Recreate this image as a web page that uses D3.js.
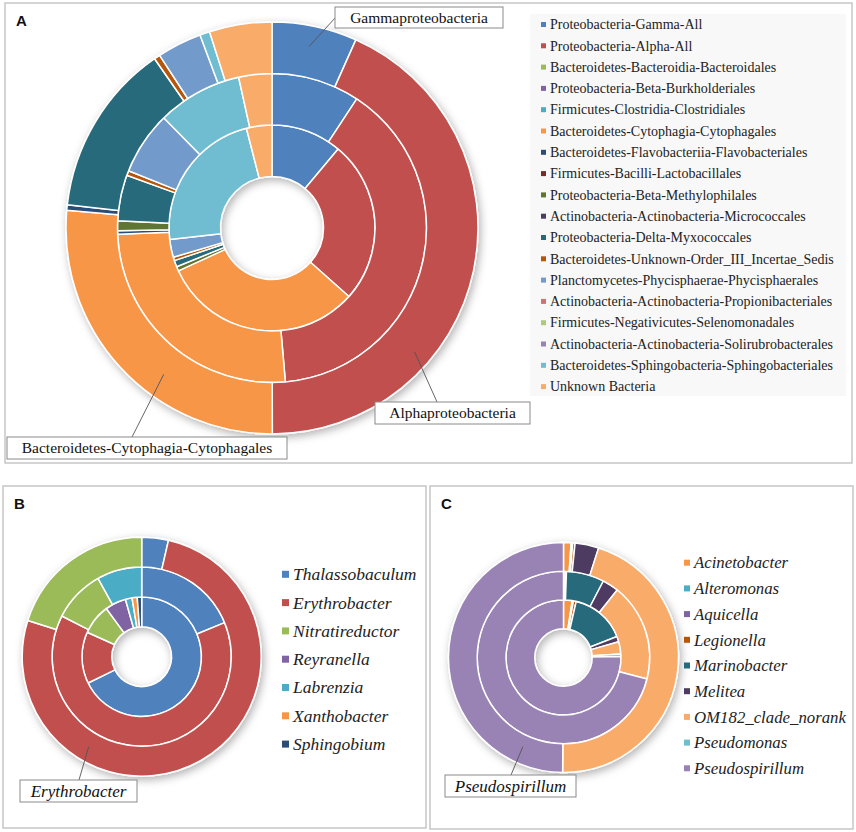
<!DOCTYPE html>
<html>
<head>
<meta charset="utf-8">
<script src="https://cdn.jsdelivr.net/npm/d3@7"></script>
<style>
  body { margin: 0; background: #fff; }
  svg { display: block; }
</style>
</head>
<body>
<script>
// ---------- data (percent of reads per ring, inner -> outer) ----------
var taxaA = ["Proteobacteria-Gamma-All", "Proteobacteria-Alpha-All", "Bacteroidetes-Bacteroidia-Bacteroidales",
  "Proteobacteria-Beta-Burkholderiales", "Firmicutes-Clostridia-Clostridiales", "Bacteroidetes-Cytophagia-Cytophagales",
  "Bacteroidetes-Flavobacteriia-Flavobacteriales", "Firmicutes-Bacilli-Lactobacillales", "Proteobacteria-Beta-Methylophilales",
  "Actinobacteria-Actinobacteria-Micrococcales", "Proteobacteria-Delta-Myxococcales", "Bacteroidetes-Unknown-Order_III_Incertae_Sedis",
  "Planctomycetes-Phycisphaerae-Phycisphaerales", "Actinobacteria-Actinobacteria-Propionibacteriales", "Firmicutes-Negativicutes-Selenomonadales",
  "Actinobacteria-Actinobacteria-Solirubrobacterales", "Bacteroidetes-Sphingobacteria-Sphingobacteriales", "Unknown Bacteria"];
var colorsA = ["#4F81BD", "#C0504D", "#9BBB59", "#8064A2", "#4BACC6", "#F79646", "#2C4D75", "#772C2A", "#5F7530",
  "#4D3B62", "#276A7C", "#B65708", "#729ACA", "#CD7371", "#AFC97A", "#9983B5", "#6FBDD1", "#F9AB6B"];
var innerA  = [11.1, 25.5, 0, 0, 0, 31.6, 0, 0, 0.7, 0, 1.0, 0.55, 2.8, 0, 0, 0, 22.8, 4.0];
var middleA = [9.25, 39.4, 0, 0, 0, 25.75, 0.36, 0, 1.03, 0, 4.8, 0.5, 6.6, 0, 0, 0, 8.9, 3.47];
var outerA  = [6.67, 43.3, 0, 0, 0, 26.4, 0.42, 0, 0, 0, 13.55, 0.47, 3.5, 0, 0, 0, 0.78, 4.9];

var taxaB = ["Thalassobaculum", "Erythrobacter", "Nitratireductor", "Reyranella", "Labrenzia", "Xanthobacter", "Sphingobium"];
var colorsB = ["#4F81BD", "#C0504D", "#9BBB59", "#8064A2", "#4BACC6", "#F79646", "#2C4D75"];
var innerB  = [67.8, 14.0, 8.2, 5.7, 1.8, 1.4, 1.2];
var middleB = [18.8, 63.7, 9.4, 0, 8.1, 0, 0];
var outerB  = [3.6, 76.3, 20.1, 0, 0, 0, 0];

var taxaC = ["Acinetobacter", "Alteromonas", "Aquicella", "Legionella", "Marinobacter", "Melitea", "OM182_clade_norank", "Pseudomonas", "Pseudospirillum"];
var colorsC = ["#F79646", "#4BACC6", "#8064A2", "#B65708", "#276A7C", "#4D3B62", "#F9AB6B", "#6FBDD1", "#9983B5"];
var innerC  = [2.44, 0.14, 0.19, 0.78, 15.5, 1.53, 3.47, 0.69, 75.3];
var middleC = [0.33, 0.11, 0.11, 0, 7.1, 3.05, 18.3, 0, 71.0];
var outerC  = [1.06, 0.11, 0.11, 0.33, 0, 3.33, 45.2, 0, 49.9];

var serif = "'Liberation Serif', 'Times New Roman', serif";
var sans  = "'Liberation Sans', Arial, sans-serif";

var svg = d3.select("body").append("svg")
    .attr("width", 856)
    .attr("height", 832);

// soft drop shadow like the office chart
var shadow = svg.append("defs").append("filter")
    .attr("id", "shadow")
    .attr("x", "-20%").attr("y", "-20%")
    .attr("width", "140%").attr("height", "140%");
shadow.append("feDropShadow")
    .attr("dx", 2).attr("dy", 3)
    .attr("stdDeviation", 4)
    .attr("flood-color", "#000")
    .attr("flood-opacity", 0.3);

// ---------- helpers ----------
function polar(cx, cy, r, deg) {
    var a = deg * Math.PI / 180;
    return [cx + r * Math.sin(a), cy - r * Math.cos(a)];
}

function panel(x, y, w, h, letter) {
    svg.append("rect")
        .attr("x", x).attr("y", y)
        .attr("width", w).attr("height", h)
        .attr("fill", "#fff")
        .attr("stroke", "#c6c6c6")
        .attr("stroke-width", 1.5);
    svg.append("text")
        .attr("x", x + 11).attr("y", y + 23)
        .attr("font-family", sans)
        .attr("font-weight", "bold")
        .attr("font-size", 15)
        .attr("fill", "#111")
        .text(letter);
}

// rings: array of value arrays, first one is the innermost
function donut(cx, cy, R, rings, colors) {
    var step = R / 4;
    var g = svg.append("g")
        .attr("transform", "translate(" + cx + "," + cy + ")")
        .attr("filter", "url(#shadow)");
    var pie = d3.pie().sort(null);
    rings.forEach(function(values, k) {
        var arc = d3.arc()
            .innerRadius(step * (k + 1))
            .outerRadius(step * (k + 2));
        var slices = pie(values).filter(function(d) { return d.endAngle > d.startAngle; });
        g.append("g").selectAll("path")
            .data(slices).enter()
            .append("path")
            .attr("d", arc)
            .attr("fill", function(d) { return colors[d.index]; })
            .attr("stroke", "#fff")
            .attr("stroke-width", 1.5)
            .attr("stroke-linejoin", "round");
    });
}

function legend(x, y, rowH, names, colors, size, italic, box) {
    var g = svg.append("g");
    g.selectAll("rect")
        .data(names).enter()
        .append("rect")
        .attr("x", x)
        .attr("y", function(d, i) { return y + i * rowH - box / 2; })
        .attr("width", box).attr("height", box)
        .attr("fill", function(d, i) { return colors[i]; });
    g.selectAll("text")
        .data(names).enter()
        .append("text")
        .attr("x", x + box + 4)
        .attr("y", function(d, i) { return y + i * rowH; })
        .attr("dy", "0.34em")
        .attr("font-family", serif)
        .attr("font-style", italic ? "italic" : "normal")
        .attr("font-size", size)
        .attr("fill", "#222")
        .text(function(d) { return d; });
}

// callout box with a leader line from (lx, ly) into the slice at (angle, radius)
function callout(c, bx, by, bw, bh, lx, ly, angle, r, label, size, italic) {
    var p = polar(c[0], c[1], r, angle);
    svg.append("line")
        .attr("x1", lx).attr("y1", ly)
        .attr("x2", p[0]).attr("y2", p[1])
        .attr("stroke", "#555")
        .attr("stroke-width", 0.9);
    svg.append("rect")
        .attr("x", bx).attr("y", by)
        .attr("width", bw).attr("height", bh)
        .attr("fill", "#fff")
        .attr("stroke", "#8a8a8a")
        .attr("stroke-width", 1);
    svg.append("text")
        .attr("x", bx + bw / 2).attr("y", by + bh / 2)
        .attr("dy", "0.35em")
        .attr("text-anchor", "middle")
        .attr("font-family", serif)
        .attr("font-style", italic ? "italic" : "normal")
        .attr("font-size", size)
        .attr("fill", "#111")
        .text(label);
}

// ---------- panel A ----------
panel(5, 3, 847, 460, "A");
var cA = [272, 228];
donut(cA[0], cA[1], 206, [innerA, middleA, outerA], colorsA);

svg.append("rect")
    .attr("x", 530).attr("y", 14)
    .attr("width", 316).attr("height", 382)
    .attr("fill", "#f8f8f8");
legend(541, 24.5, 21.3, taxaA, colorsA, 14, false, 5);

callout(cA, 335, 7, 168, 21, 335, 18, 11.5, 185, "Gammaproteobacteria", 15.5, false);
callout(cA, 375, 402, 155, 22, 437, 402, 131, 189, "Alphaproteobacteria", 15.5, false);
callout(cA, 7, 437, 280, 22, 132, 437, 216.5, 182, "Bacteroidetes-Cytophagia-Cytophagales", 15.5, false);

// ---------- panel B ----------
panel(3, 486, 423, 342, "B");
var cB = [141.7, 656.7];
donut(cB[0], cB[1], 119.5, [innerB, middleB, outerB], colorsB);
legend(282, 574.3, 28.3, taxaB, colorsB, 17.5, true, 7);
callout(cB, 20, 780, 117, 22, 79, 780, 210.5, 104.5, "Erythrobacter", 17, true);

// ---------- panel C ----------
panel(430, 486, 423, 343, "C");
var cC = [563.5, 657.5];
donut(cC[0], cC[1], 115, [innerC, middleC, outerC], colorsC);
legend(684, 562.7, 25.7, taxaC, colorsC, 16.8, true, 6);
callout(cC, 445, 775, 131, 22, 511, 775, 204.5, 98, "Pseudospirillum", 17, true);
</script>
</body>
</html>
